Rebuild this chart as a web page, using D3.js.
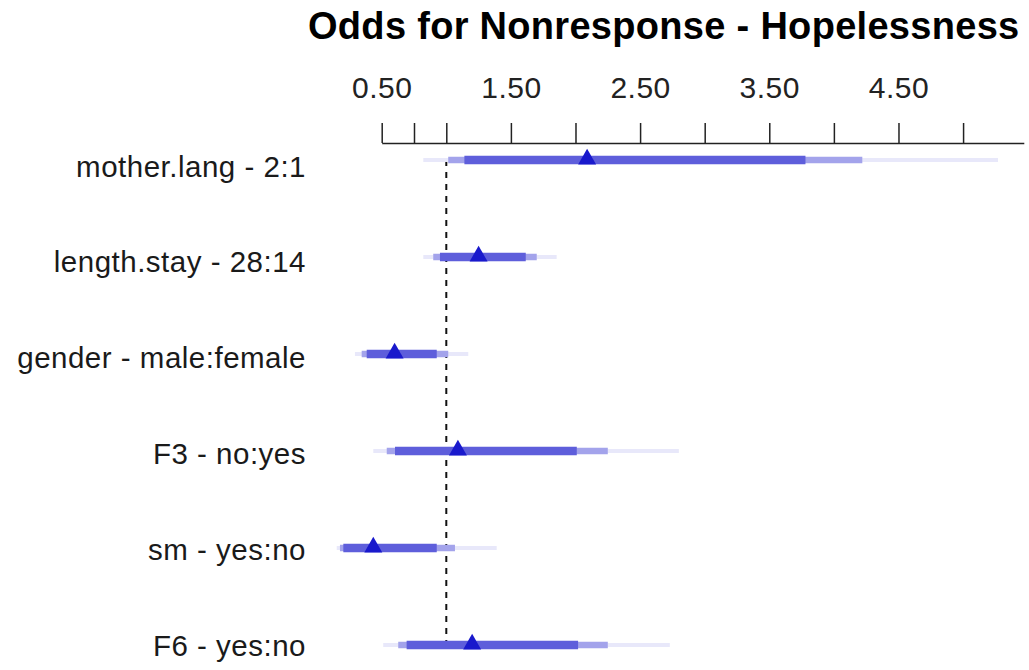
<!DOCTYPE html>
<html>
<head>
<meta charset="utf-8">
<script src="https://cdn.jsdelivr.net/npm/d3@7"></script>
<style>
  html, body { margin: 0; padding: 0; background: #ffffff; }
  svg { display: block; }
</style>
</head>
<body>
<svg id="chart" width="1029" height="670"></svg>
<script>
// ---- data ----
const titleText = "Odds for Nonresponse - Hopelessness";
const labels = ["mother.lang - 2:1", "length.stay - 28:14", "gender - male:female", "F3 - no:yes", "sm - yes:no", "F6 - yes:no"];
const estimates = [2.09, 1.25, 0.60, 1.09, 0.435, 1.20];
const lo90 = [1.14, 0.951, 0.384, 0.603, 0.203, 0.693];
const hi90 = [3.78, 1.615, 0.926, 2.01, 0.926, 2.02];
const lo95 = [1.015, 0.899, 0.345, 0.539, 0.177, 0.628];
const hi95 = [4.22, 1.70, 1.015, 2.25, 1.067, 2.25];
const lo99 = [0.822, 0.822, 0.293, 0.435, 0.152, 0.512];
const hi99 = [5.27, 1.854, 1.17, 2.80, 1.39, 2.73];
const tickValues = [0.5, 0.75, 1, 1.5, 2, 2.5, 3, 3.5, 4, 4.5, 5];
const tickLabels = [0.5, 1.5, 2.5, 3.5, 4.5];
const refValue = 1;

// ---- layout ----
const svg = d3.select("#chart");
const x = d3.scaleLinear().domain([0.5, 5.47]).range([381.7, 1023.8]);
const y = d3.scalePoint().domain(labels).range([160, 645]);
const yLabel = d3.scalePoint().domain(labels).range([176.5, 655.5]);

const font = "'Liberation Sans', Arial, sans-serif";

// title
svg.append("text")
  .attr("x", 308).attr("y", 39)
  .attr("font-family", font).attr("font-weight", "bold")
  .attr("font-size", 38).attr("letter-spacing", 0.3)
  .attr("fill", "#000")
  .text(titleText);

// axis
const axis = d3.axisTop(x)
  .tickValues(tickValues)
  .tickSize(20)
  .tickSizeOuter(0)
  .tickPadding(25)
  .tickFormat(d => tickLabels.includes(d) ? d3.format(".2f")(d) : "");
const gAxis = svg.append("g").attr("transform", "translate(0,143)").call(axis);
gAxis.select(".domain").attr("stroke", "#222").attr("stroke-width", 1.5);
gAxis.selectAll(".tick line").attr("stroke", "#222").attr("stroke-width", 1.5);
gAxis.selectAll(".tick text")
  .attr("font-family", font).attr("font-size", 30)
  .attr("letter-spacing", 0.5)
  .attr("fill", "#222");

// reference dashed line
svg.append("line")
  .attr("x1", x(refValue)).attr("x2", x(refValue))
  .attr("y1", y(labels[0])).attr("y2", y(labels[labels.length - 1]))
  .attr("stroke", "#111").attr("stroke-width", 2)
  .attr("stroke-dasharray", "6,6");

// row labels
svg.append("g").selectAll("text").data(labels).join("text")
  .attr("x", 306).attr("y", d => yLabel(d))
  .attr("text-anchor", "end")
  .attr("font-family", font).attr("font-size", 29.5)
  .attr("letter-spacing", 0.5)
  .attr("fill", "#1a1a1a")
  .text(d => d);

// confidence bars
const levels = [
  { lo: lo99, hi: hi99, color: "#e8e8fa", w: 4 },
  { lo: lo95, hi: hi95, color: "#a3a3eb", w: 6.5 },
  { lo: lo90, hi: hi90, color: "#5e5edb", w: 8.5 }
];
const gBars = svg.append("g");
levels.forEach(lv => {
  gBars.append("g").selectAll("rect").data(labels).join("rect")
    .attr("x", (d, i) => x(lv.lo[i]))
    .attr("width", (d, i) => x(lv.hi[i]) - x(lv.lo[i]))
    .attr("y", d => y(d) - lv.w / 2)
    .attr("height", lv.w)
    .attr("fill", lv.color);
});

// point estimates
const tri = d3.symbol().type(d3.symbolTriangle).size(140);
svg.append("g").selectAll("path").data(labels).join("path")
  .attr("d", tri)
  .attr("transform", (d, i) => `translate(${x(estimates[i])},${y(d) - 0.8})`)
  .attr("fill", "#1919cc");
</script>
</body>
</html>
